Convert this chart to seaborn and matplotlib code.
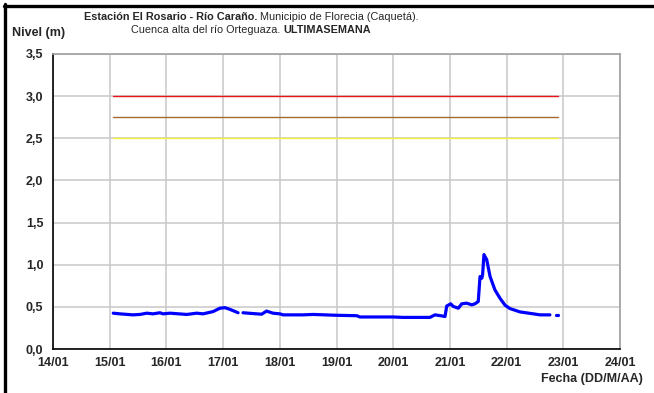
import matplotlib
matplotlib.use("Agg")
import matplotlib.pyplot as plt
import matplotlib.dates as mdates
from matplotlib.lines import Line2D
import numpy as np
import pandas as pd
import seaborn as sns

# Hourly water-level readings (m); NaN marks missing records
times = [
    "2013-01-15 01:30", "2013-01-15 04:20", "2013-01-15 09:50", "2013-01-15 12:50",
    "2013-01-15 15:40", "2013-01-15 18:20", "2013-01-15 21:15", "2013-01-15 22:35",
    "2013-01-16 01:30", "2013-01-16 08:35", "2013-01-16 12:50", "2013-01-16 15:30",
    "2013-01-16 19:45", "2013-01-16 22:40", "2013-01-17 00:50", "2013-01-17 02:55",
    "2013-01-17 06:20", "2013-01-17 07:20",
    "2013-01-17 08:25", "2013-01-17 14:15", "2013-01-17 16:20", "2013-01-17 18:25",
    "2013-01-17 21:05", "2013-01-18 00:05", "2013-01-18 01:20", "2013-01-18 09:50",
    "2013-01-18 14:05", "2013-01-19 00:05", "2013-01-19 08:35", "2013-01-19 09:55",
    "2013-01-19 23:55", "2013-01-20 04:10", "2013-01-20 15:35", "2013-01-20 17:40",
    "2013-01-20 20:30", "2013-01-20 21:55", "2013-01-20 22:40", "2013-01-21 00:20",
    "2013-01-21 01:25", "2013-01-21 03:35", "2013-01-21 05:00", "2013-01-21 07:05",
    "2013-01-21 09:15", "2013-01-21 10:35", "2013-01-21 12:00", "2013-01-21 12:45",
    "2013-01-21 13:30", "2013-01-21 13:50", "2013-01-21 14:25", "2013-01-21 15:35",
    "2013-01-21 17:00", "2013-01-21 19:05", "2013-01-21 21:15", "2013-01-21 23:20",
    "2013-01-22 01:25", "2013-01-22 05:40", "2013-01-22 11:20", "2013-01-22 14:10",
    "2013-01-22 18:20", "2013-01-22 19:45",
    "2013-01-22 21:00", "2013-01-22 21:45",
]
nivel = [
    0.425, 0.417, 0.405, 0.410, 0.425, 0.417, 0.430, 0.417,
    0.425, 0.410, 0.425, 0.417, 0.444, 0.484, 0.490, 0.470,
    0.430, np.nan,
    0.430, 0.417, 0.413, 0.450, 0.425, 0.417, 0.405, 0.405,
    0.410, 0.400, 0.395, 0.380, 0.380, 0.375, 0.375, 0.405,
    0.393, 0.385, 0.510, 0.536, 0.505, 0.484, 0.536, 0.544,
    0.524, 0.536, 0.563, 0.860, 0.840, 0.880, 1.120, 1.060,
    0.860, 0.700, 0.600, 0.520, 0.480, 0.440, 0.417, 0.405,
    0.405, np.nan,
    0.400, 0.400,
]

# Alert thresholds (m)
umbral_nombres = ["Rojo", "Naranja", "Amarillo"]
umbral_valores = [3.0, 2.75, 2.5]
umbral_colores = ["#E8141C", "#A86A30", "#F2F23C"]

x_ticks = pd.date_range("2013-01-14", "2013-01-24", freq="D")
y_ticks = [0.0, 0.5, 1.0, 1.5, 2.0, 2.5, 3.0, 3.5]

# ---------------------------------------------------------------------------
df = pd.DataFrame({"fecha": pd.to_datetime(times), "nivel": nivel})
df["tramo"] = df["nivel"].isna().cumsum()
df = df.dropna()

t0, t1 = pd.to_datetime(times[0]), pd.to_datetime(times[-1])
umb = pd.DataFrame({
    "fecha": [t0, t1] * len(umbral_valores),
    "nivel": [v for v in umbral_valores for _ in range(2)],
    "umbral": [n for n in umbral_nombres for _ in range(2)],
})

sns.set_style("white")
plt.rcParams["font.family"] = ["Liberation Sans", "DejaVu Sans"]

fig = plt.figure(figsize=(6.54, 3.93), dpi=100)
ax = fig.add_axes([53 / 654, 1 - 349 / 393, 567 / 654, 295 / 393])

sns.lineplot(data=umb, x="fecha", y="nivel", hue="umbral",
             palette=dict(zip(umbral_nombres, umbral_colores)),
             hue_order=umbral_nombres, linewidth=1.0, legend=False, ax=ax)
sns.lineplot(data=df, x="fecha", y="nivel", units="tramo", estimator=None,
             color="#0000FF", linewidth=2.3, legend=False, ax=ax)

ax.set_xlim(x_ticks[0], x_ticks[-1])
ax.set_ylim(0, 3.5)
ax.set_xticks(x_ticks)
ax.xaxis.set_major_formatter(mdates.DateFormatter("%d/%m"))
ax.set_yticks(y_ticks)
ax.set_yticklabels([f"{v:.1f}".replace(".", ",") for v in y_ticks])

ax.grid(True, color="#C8C8C8", linewidth=1.1)
ax.set_axisbelow(True)
for side in ("left", "bottom"):
    ax.spines[side].set_color("black")
    ax.spines[side].set_linewidth(1.2)
for side in ("top", "right"):
    ax.spines[side].set_color("#A0A0A0")
    ax.spines[side].set_linewidth(1.2)

ax.tick_params(axis="both", which="major", direction="out", length=4,
               width=1.0, color="black", labelsize=9, pad=2)
ax.tick_params(axis="y", pad=3)
for lab in ax.get_xticklabels() + ax.get_yticklabels():
    lab.set_fontweight("bold")
ax.set_xlabel("")
ax.set_ylabel("")

fig.text(12 / 654, 1 - 33 / 393, "Nivel (m)", fontsize=9, fontweight="bold",
         va="center", ha="left")
fig.text(643 / 654, 1 - 379 / 393, "Fecha (DD/M/AA)", fontsize=9,
         fontweight="bold", va="center", ha="right")

# Title built from bold and regular runs, centred as a block
fig.canvas.draw()
renderer = fig.canvas.get_renderer()


def runs_line(parts, y_px, cx_px):
    objs = []
    for s, w in parts:
        objs.append(fig.text(0, 1 - y_px / 393, s, fontsize=7.8, fontweight=w,
                             va="center", ha="left"))
    widths = [o.get_window_extent(renderer).width for o in objs]
    x = cx_px - sum(widths) / 2
    for o, wdt in zip(objs, widths):
        o.set_x(x / 654)
        x += wdt


runs_line([("Estación El Rosario - Río Caraño.", "bold"),
           (" Municipio de Florecia (Caquetá).", "normal")], 17, 251)
runs_line([("Cuenca alta del río Orteguaza. ", "normal"),
           ("ULTIMASEMANA", "bold")], 30, 251)

# Frame edges on the top and left of the figure
fig.add_artist(Line2D([5.5 / 654, 5.5 / 654], [0, 1 - 4 / 393],
                      transform=fig.transFigure, color="black", linewidth=2.4))
fig.add_artist(Line2D([4 / 654, 1], [1 - 5.5 / 393, 1 - 5.5 / 393],
                      transform=fig.transFigure, color="black", linewidth=2.4))

fig.savefig("out.png", dpi=100)
